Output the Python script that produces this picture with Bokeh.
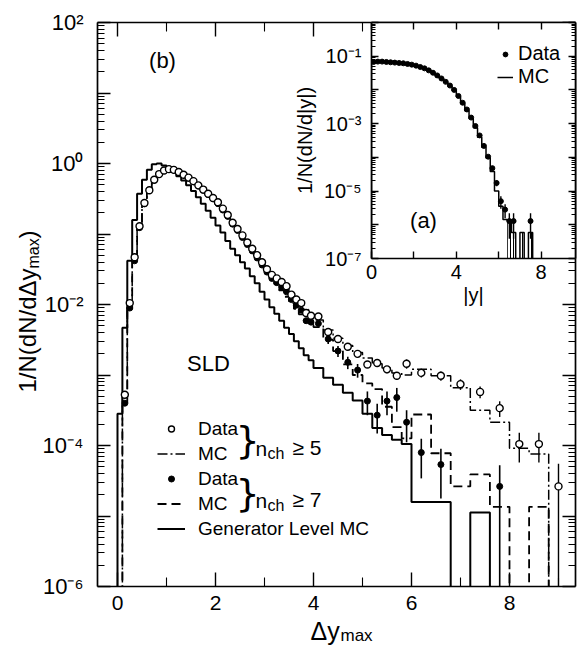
from bokeh.plotting import figure
from bokeh.models import (Range1d, FixedTicker, LogAxis, LinearAxis, Legend,
                          LegendItem, Label)
from bokeh.embed import file_html
from bokeh.resources import INLINE
from bokeh.core.properties import value

FONT = "Liberation Sans"

# ---------------- panel (b): Delta y_max distribution ----------------
# bin edges: 0.1 wide up to 4.0, 0.2 wide up to 6.0, 0.4 wide up to 9.2
edges_b = ([round(0.1 * i, 1) for i in range(40)]
           + [round(4.0 + 0.2 * i, 1) for i in range(10)]
           + [round(6.0 + 0.4 * i, 1) for i in range(9)])

# log10 of 1/N dN/dΔy_max (None = empty bin)
data5_log = [None, -3.28, -1.98, -1.33, -0.89, -0.56, -0.38, -0.23, -0.15, -0.10,
             -0.08, -0.09, -0.12, -0.16, -0.20, -0.25, -0.31, -0.37, -0.43, -0.49,
             -0.55, -0.64, -0.73, -0.84, -0.93, -1.02, -1.12, -1.21, -1.30, -1.40,
             -1.50, -1.58, -1.63, -1.68, -1.74, -1.86, -1.93, -1.98, -2.12, -2.16,
             -2.17, -2.39, -2.49, -2.60, -2.70, -2.85, -2.83, -2.92, -3.01, -2.84,
             -2.97, -3.01, -3.13, -3.24, -3.47, -3.98, -3.98, -4.58]
data5_relerr = [0, 0.06, 0.03, 0.02, 0.02, 0.02, 0.02, 0.02, 0.02, 0.02,
                0.02, 0.02, 0.02, 0.02, 0.02, 0.02, 0.02, 0.02, 0.02, 0.02,
                0.02, 0.02, 0.02, 0.02, 0.02, 0.02, 0.02, 0.03, 0.03, 0.03,
                0.03, 0.03, 0.03, 0.03, 0.04, 0.04, 0.04, 0.04, 0.05, 0.05,
                0.05, 0.07, 0.08, 0.09, 0.10, 0.11, 0.12, 0.12, 0.13, 0.15,
                0.14, 0.15, 0.17, 0.19, 0.25, 0.45, 0.45, 1.10]
mc5_log = [None, -3.30, -2.00, -1.35, -0.90, -0.57, -0.38, -0.24, -0.16, -0.11,
           -0.09, -0.10, -0.12, -0.16, -0.20, -0.25, -0.31, -0.37, -0.43, -0.49,
           -0.56, -0.64, -0.73, -0.83, -0.92, -1.02, -1.11, -1.20, -1.30, -1.39,
           -1.48, -1.56, -1.63, -1.70, -1.78, -1.86, -1.92, -1.99, -2.07, -2.14,
           -2.22, -2.36, -2.48, -2.58, -2.68, -2.76, -2.84, -2.90, -2.97, -3.00,
           -2.92, -3.01, -3.18, -3.50, -3.67, -4.04, -4.12, None]
data7_log = [None, -3.40, -2.05, -1.38, -0.91, -0.57, -0.38, -0.23, -0.15, -0.10,
             -0.08, -0.09, -0.12, -0.16, -0.21, -0.26, -0.32, -0.38, -0.44, -0.50,
             -0.57, -0.66, -0.75, -0.86, -0.95, -1.05, -1.15, -1.24, -1.34, -1.44,
             -1.54, -1.63, -1.69, -1.75, -1.82, -1.93, -2.01, -2.08, -2.23, -2.25,
             -2.27, -2.49, -2.66, -2.82, -2.93, -3.37, -3.57, -3.37, -3.32, -3.67,
             -4.10, -4.27, None, None, -4.58, None, None, None]
data7_relerr = [0, 0.08, 0.03, 0.02, 0.02, 0.02, 0.02, 0.02, 0.02, 0.02,
                0.02, 0.02, 0.02, 0.02, 0.02, 0.02, 0.02, 0.02, 0.02, 0.02,
                0.02, 0.02, 0.03, 0.03, 0.03, 0.03, 0.03, 0.03, 0.04, 0.04,
                0.04, 0.04, 0.05, 0.05, 0.05, 0.06, 0.06, 0.07, 0.07, 0.08,
                0.08, 0.15, 0.18, 0.20, 0.22, 0.37, 0.45, 0.37, 0.37, 0.48,
                0.57, 0.67, 0, 0, 1.00, 0, 0, 0]
mc7_log = [None, -3.42, -2.06, -1.40, -0.92, -0.58, -0.39, -0.24, -0.16, -0.11,
           -0.09, -0.10, -0.13, -0.17, -0.21, -0.26, -0.32, -0.38, -0.45, -0.51,
           -0.58, -0.66, -0.75, -0.85, -0.95, -1.04, -1.14, -1.24, -1.34, -1.43,
           -1.53, -1.62, -1.71, -1.80, -1.89, -1.98, -2.06, -2.14, -2.22, -2.29,
           -2.32, -2.50, -2.66, -2.85, -3.00, -3.12, -3.20, -3.45, -3.74, -3.90,
           -3.56, -4.11, -4.58, -4.41, -4.87, None, -4.87, None]
gen_log = [-3.55, -2.33, -1.38, -0.80, -0.43, -0.23, -0.09, -0.01, 0.00, -0.03,
           -0.07, -0.12, -0.18, -0.24, -0.31, -0.39, -0.48, -0.57, -0.67, -0.77,
           -0.88, -0.98, -1.10, -1.21, -1.30, -1.40, -1.49, -1.60, -1.70, -1.82,
           -1.93, -2.04, -2.13, -2.23, -2.33, -2.42, -2.52, -2.62, -2.72, -2.79,
           -2.90, -3.04, -3.14, -3.25, -3.36, -3.55, -3.75, -3.85, -3.92, -3.98,
           -4.80, -4.80, None, -4.95, None, None, None, None]

# ---------------- panel (a): |y| distribution ----------------
edges_a = [round(0.2 * i, 1) for i in range(41)]
dataA_log = [-1.17, -1.16, -1.16, -1.17, -1.18, -1.19, -1.20, -1.21, -1.23, -1.25,
             -1.28, -1.32, -1.36, -1.42, -1.49, -1.57, -1.66, -1.76, -1.87, -2.00,
             -2.18, -2.38, -2.58, -2.82, -3.07, -3.35, -3.66, -3.98, -4.32, -4.76,
             -5.30, -5.55, -5.89, -5.89, None, None, None, -5.89, None, None]
dataA_relerr = [0.01] * 25 + [0.03, 0.05, 0.10, 0.15, 0.20,
                              0.40, 0.45, 0.70, 0.70, 0, 0, 0, 0.70, 0, 0]
mcA_log = [-1.15, -1.14, -1.15, -1.16, -1.17, -1.18, -1.19, -1.21, -1.23, -1.25,
           -1.28, -1.31, -1.36, -1.42, -1.49, -1.57, -1.66, -1.77, -1.89, -2.02,
           -2.20, -2.40, -2.62, -2.85, -3.12, -3.40, -3.70, -4.02, -4.42, -5.00,
           -5.45, -5.84, -5.89, -6.23, None, -6.23, None, -6.23, None, None]

y_ticks_b = [10.0 ** k for k in range(-6, 3)]
y_ticks_a = [10.0 ** k for k in range(-7, 1)]

FLOOR = 1e-12
SUP = str.maketrans("-0123456789", "⁻⁰¹²³⁴⁵⁶⁷⁸⁹")
W, H = 577, 647


def step_path(edges, logs):
    xs, ys = [edges[0]], [FLOOR]
    for i, v in enumerate(logs):
        y = FLOOR if v is None else 10.0 ** v
        xs += [edges[i], edges[i + 1]]
        ys += [y, y]
    xs.append(edges[-1])
    ys.append(FLOOR)
    return xs, ys


def points(edges, logs, rel):
    xc, yc, lo, hi = [], [], [], []
    for i, v in enumerate(logs):
        if v is None:
            continue
        y = 10.0 ** v
        xc.append(0.5 * (edges[i] + edges[i + 1]))
        yc.append(y)
        lo.append(max(y * (1 - rel[i]), FLOOR))
        hi.append(y * (1 + rel[i]))
    return xc, yc, lo, hi


def style_axis(ax, maj_in, min_in, size):
    ax.major_tick_in = maj_in
    ax.major_tick_out = 0
    ax.minor_tick_in = min_in
    ax.minor_tick_out = 0
    ax.axis_line_width = 1.7
    ax.major_tick_line_width = 1.4
    ax.minor_tick_line_width = 1.1
    ax.major_label_text_font = FONT
    ax.major_label_text_font_size = size
    ax.major_label_text_color = "black"
    ax.axis_label_text_font = FONT
    ax.axis_label_text_font_style = "normal"
    ax.axis_label_text_color = "black"


def blank_axis(ax, ticks):
    ax.major_label_overrides = {t: "" for t in ticks}
    ax.major_label_text_font_size = "0px"
    ax.major_label_standoff = 0


# ================= main figure (b) =================
p = figure(width=W, height=H, x_range=Range1d(-0.408, 9.347),
           y_range=Range1d(1e-6, 1e2), y_axis_type="log",
           output_backend="svg", toolbar_location=None,
           min_border_left=97, min_border_right=2, min_border_top=22,
           min_border_bottom=61, background_fill_color="white",
           border_fill_color="white", outline_line_color=None)
p.xgrid.visible = False
p.ygrid.visible = False

xt_b = FixedTicker(ticks=[0, 2, 4, 6, 8], minor_ticks=[1, 3, 5, 7, 9])
yt_b = FixedTicker(ticks=y_ticks_b,
                   minor_ticks=[m * 10.0 ** k for k in range(-6, 2) for m in range(2, 10)])
p.xaxis.ticker = xt_b
p.yaxis.ticker = yt_b
style_axis(p.xaxis[0], 14, 9, "21px")
style_axis(p.yaxis[0], 13, 7, "22px")
p.xaxis.major_label_standoff = 9
p.yaxis.major_label_standoff = 14
p.yaxis.major_label_overrides = {
    t: ("10" + str(k).translate(SUP) if k % 2 == 0 else "")
    for t, k in zip(y_ticks_b, range(-6, 3))}

top_b = LinearAxis(ticker=xt_b)
style_axis(top_b, 14, 9, "0px")
blank_axis(top_b, [0, 2, 4, 6, 8])
p.add_layout(top_b, "above")
right_b = LogAxis(ticker=yt_b)
style_axis(right_b, 13, 7, "0px")
blank_axis(right_b, y_ticks_b)
p.add_layout(right_b, "right")

gx, gy = step_path(edges_b, gen_log)
r_gen = p.line(gx, gy, line_color="black", line_width=2.0)
m7x, m7y = step_path(edges_b, mc7_log)
r_mc7 = p.line(m7x, m7y, line_color="black", line_width=1.8, line_dash="9 5")
m5x, m5y = step_path(edges_b, mc5_log)
r_mc5 = p.line(m5x, m5y, line_color="black", line_width=1.5, line_dash="10 3 2 3")

x7, y7, lo7, hi7 = points(edges_b, data7_log, data7_relerr)
p.segment(x0=x7, y0=lo7, x1=x7, y1=hi7, line_color="black", line_width=1.6)
r_d7 = p.scatter(x7, y7, marker="circle", size=6, fill_color="black",
                 line_color="black")
x5, y5, lo5, hi5 = points(edges_b, data5_log, data5_relerr)
p.segment(x0=x5, y0=lo5, x1=x5, y1=hi5, line_color="black", line_width=1.4)
r_d5 = p.scatter(x5, y5, marker="circle", size=7, fill_color="white",
                 line_color="black", line_width=1.4)

legend_b = Legend(items=[
    LegendItem(label=value("Data"), renderers=[r_d5]),
    LegendItem(label=value("MC"), renderers=[r_mc5]),
    LegendItem(label=value("Data"), renderers=[r_d7]),
    LegendItem(label=value("MC"), renderers=[r_mc7]),
    LegendItem(label=value("Generator Level MC"), renderers=[r_gen]),
], location=(60, 45), glyph_width=28, glyph_height=15, label_height=25,
    label_standoff=13, spacing=0, padding=0, margin=0,
    border_line_color=None, background_fill_alpha=0,
    label_text_font=FONT, label_text_font_size="19px",
    label_text_color="black")
p.add_layout(legend_b)

# ================= inset figure (a) =================
ins = figure(width=291, height=318, x_range=Range1d(0, 9.62),
             y_range=Range1d(1e-7, 1.0), y_axis_type="log",
             output_backend="svg", toolbar_location=None,
             min_border_left=85, min_border_right=2, min_border_top=22,
             min_border_bottom=60, background_fill_color="white",
             border_fill_color=None, outline_line_color=None)
ins.xgrid.visible = False
ins.ygrid.visible = False
xt_a = FixedTicker(ticks=[0, 2, 4, 6, 8])
yt_a = FixedTicker(ticks=y_ticks_a,
                   minor_ticks=[m * 10.0 ** k for k in range(-7, 0) for m in range(2, 10)])
ins.xaxis.ticker = xt_a
ins.yaxis.ticker = yt_a
style_axis(ins.xaxis[0], 7, 4, "20px")
style_axis(ins.yaxis[0], 7, 4, "20px")
ins.xaxis.major_label_overrides = {2: "", 6: ""}
ins.yaxis.major_label_overrides = {
    t: ("10" + str(k).translate(SUP) if k % 2 != 0 else "")
    for t, k in zip(y_ticks_a, range(-7, 1))}
ins.xaxis.major_label_standoff = 6
ins.yaxis.major_label_standoff = 10
ins.xaxis.axis_label = "|y|"
ins.yaxis.axis_label = "1/N(dN/d|y|)"
ins.xaxis.axis_label_text_font_size = "20px"
ins.yaxis.axis_label_text_font_size = "20px"
ins.xaxis.axis_label_standoff = 2
ins.yaxis.axis_label_standoff = 5
top_a = LinearAxis(ticker=xt_a)
style_axis(top_a, 7, 4, "0px")
blank_axis(top_a, [0, 2, 4, 6, 8])
ins.add_layout(top_a, "above")
right_a = LogAxis(ticker=yt_a)
style_axis(right_a, 7, 4, "0px")
blank_axis(right_a, y_ticks_a)
ins.add_layout(right_a, "right")

# hatched tail bins of the MC histogram
tail = [i for i, v in enumerate(mcA_log) if v is not None and edges_a[i] >= 6.4]
ins.quad(left=[edges_a[i] for i in tail], right=[edges_a[i + 1] for i in tail],
         bottom=[FLOOR] * len(tail), top=[10.0 ** mcA_log[i] for i in tail],
         fill_color=None, line_color=None, hatch_pattern="vertical_line",
         hatch_color="black", hatch_scale=3, hatch_weight=1)
ax_, ay_ = step_path(edges_a, mcA_log)
r_mcA = ins.line(ax_, ay_, line_color="black", line_width=1.5)
xa, ya, loa, hia = points(edges_a, dataA_log, dataA_relerr)
ins.segment(x0=xa, y0=loa, x1=xa, y1=hia, line_color="black", line_width=1.4)
r_dA = ins.scatter(xa, ya, marker="circle", size=5, fill_color="black",
                   line_color="black")

legend_a = Legend(items=[
    LegendItem(label=value("Data"), renderers=[r_dA]),
    LegendItem(label=value("MC"), renderers=[r_mcA]),
], location=(126, 170), glyph_width=16, glyph_height=12, label_height=23,
    label_standoff=5, spacing=0, padding=0, margin=0,
    border_line_color=None, background_fill_alpha=0,
    label_text_font=FONT, label_text_font_size="20px",
    label_text_color="black")
ins.add_layout(legend_a)

# ================= transparent text layer (pixel coordinates) =================
txt = figure(width=W, height=H, x_range=Range1d(0, W), y_range=Range1d(H, 0),
             output_backend="svg", toolbar_location=None,
             x_axis_location=None, y_axis_location=None,
             min_border=0, min_border_left=0, min_border_right=0,
             min_border_top=0, min_border_bottom=0,
             background_fill_color=None, border_fill_color=None,
             outline_line_color=None)
txt.xgrid.visible = False
txt.ygrid.visible = False


def add_text(x, y, text, size, align="center", baseline="middle",
             angle=0, font=FONT):
    txt.add_layout(Label(x=x, y=y, text=text, text_font=font,
                         text_font_size=size, text_align=align,
                         text_baseline=baseline, text_color="black",
                         angle=angle, angle_units="deg"))


add_text(162, 60, "(b)", "22px")
add_text(208, 363, "SLD", "22px")
add_text(423, 220, "(a)", "22px")
add_text(247, 439, "}", "38px", font="DejaVu Sans")
add_text(247, 492, "}", "38px", font="DejaVu Sans")
add_text(255, 448, "n", "21px", "left", "alphabetic")
add_text(267, 453, "ch", "16px", "left", "alphabetic")
add_text(292, 447, "≥ 5", "21px", "left", "alphabetic")
add_text(255, 500, "n", "21px", "left", "alphabetic")
add_text(267, 505, "ch", "16px", "left", "alphabetic")
add_text(292, 499, "≥ 7", "21px", "left", "alphabetic")
# axis titles with real subscripts
add_text(310, 630, "Δy", "25px", "left", "alphabetic")
add_text(340, 635, "max", "17px", "left", "alphabetic")
add_text(27, 392, "1/N(dN/dΔy", "24px", "left", "middle", angle=90)
add_text(33, 268, "max", "16px", "left", "middle", angle=90)
add_text(27, 238, ")", "24px", "left", "middle", angle=90)

# separate roots, stacked with absolute positioning (no frame alignment)
ins.styles = {"position": "absolute", "left": "286px", "top": "0px",
              "z-index": "5"}
txt.styles = {"position": "absolute", "left": "0px", "top": "0px",
              "z-index": "6"}
p.styles = {"position": "absolute", "left": "0px", "top": "0px",
            "z-index": "1"}

open("out.html", "w").write(file_html([p, ins, txt], INLINE))
